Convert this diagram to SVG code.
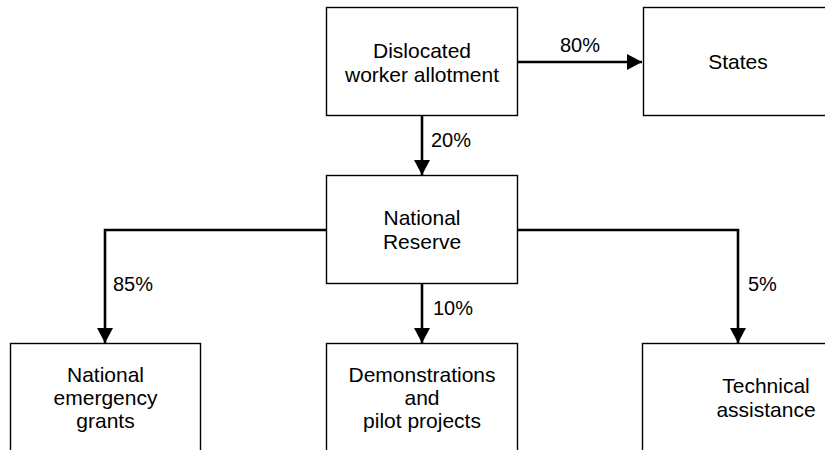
<svg xmlns="http://www.w3.org/2000/svg" width="825" height="450" viewBox="0 0 825 450">
<style>
.box{fill:#fff;stroke:#000;stroke-width:1.4}
.t{font-family:"Liberation Sans",Arial,sans-serif;font-size:21px;fill:#000;text-anchor:middle}
.l{font-family:"Liberation Sans",Arial,sans-serif;font-size:20px;fill:#000}
.c{fill:none;stroke:#000;stroke-width:2.6}
</style>
<defs>
<marker id="ah" markerUnits="userSpaceOnUse" markerWidth="16" markerHeight="16" viewBox="0 0 16 16" refX="15" refY="8" orient="auto">
<path d="M0,0 L15,8 L0,16 Z" fill="#000"/>
</marker>
</defs>
<rect width="825" height="450" fill="#fff"/>
<g id="connectors">
<path class="c" d="M518,62 H642" marker-end="url(#ah)"/>
<path class="c" d="M422,116 V175" marker-end="url(#ah)"/>
<path class="c" d="M326,230 H105 V343" marker-end="url(#ah)"/>
<path class="c" d="M422,284 V343" marker-end="url(#ah)"/>
<path class="c" d="M518,230 H738 V343" marker-end="url(#ah)"/>
<text class="l" x="560" y="52">80%</text>
<text class="l" x="431" y="147">20%</text>
<text class="l" x="113" y="291">85%</text>
<text class="l" x="433" y="315">10%</text>
<text class="l" x="748" y="291">5%</text>
</g>
<g id="dislocated">
<rect class="box" x="326.5" y="7.5" width="191" height="108"/>
<text class="t" x="422" y="58">Dislocated</text>
<text class="t" x="422" y="82">worker allotment</text>
</g>
<g id="states">
<rect class="box" x="643.5" y="7.5" width="200" height="108"/>
<text class="t" x="738" y="69">States</text>
</g>
<g id="reserve">
<rect class="box" x="326.5" y="175.5" width="191" height="108"/>
<text class="t" x="422" y="225">National</text>
<text class="t" x="422" y="249">Reserve</text>
</g>
<g id="grants">
<rect class="box" x="10.5" y="343.5" width="190" height="120"/>
<text class="t" x="105.5" y="382">National</text>
<text class="t" x="105.5" y="405">emergency</text>
<text class="t" x="105.5" y="428">grants</text>
</g>
<g id="demos">
<rect class="box" x="326.5" y="343.5" width="191" height="120"/>
<text class="t" x="422" y="382">Demonstrations</text>
<text class="t" x="422" y="405">and</text>
<text class="t" x="422" y="428">pilot projects</text>
</g>
<g id="technical">
<rect class="box" x="642.5" y="343.5" width="250" height="120"/>
<text class="t" x="766" y="393">Technical</text>
<text class="t" x="766" y="417">assistance</text>
</g>
</svg>
